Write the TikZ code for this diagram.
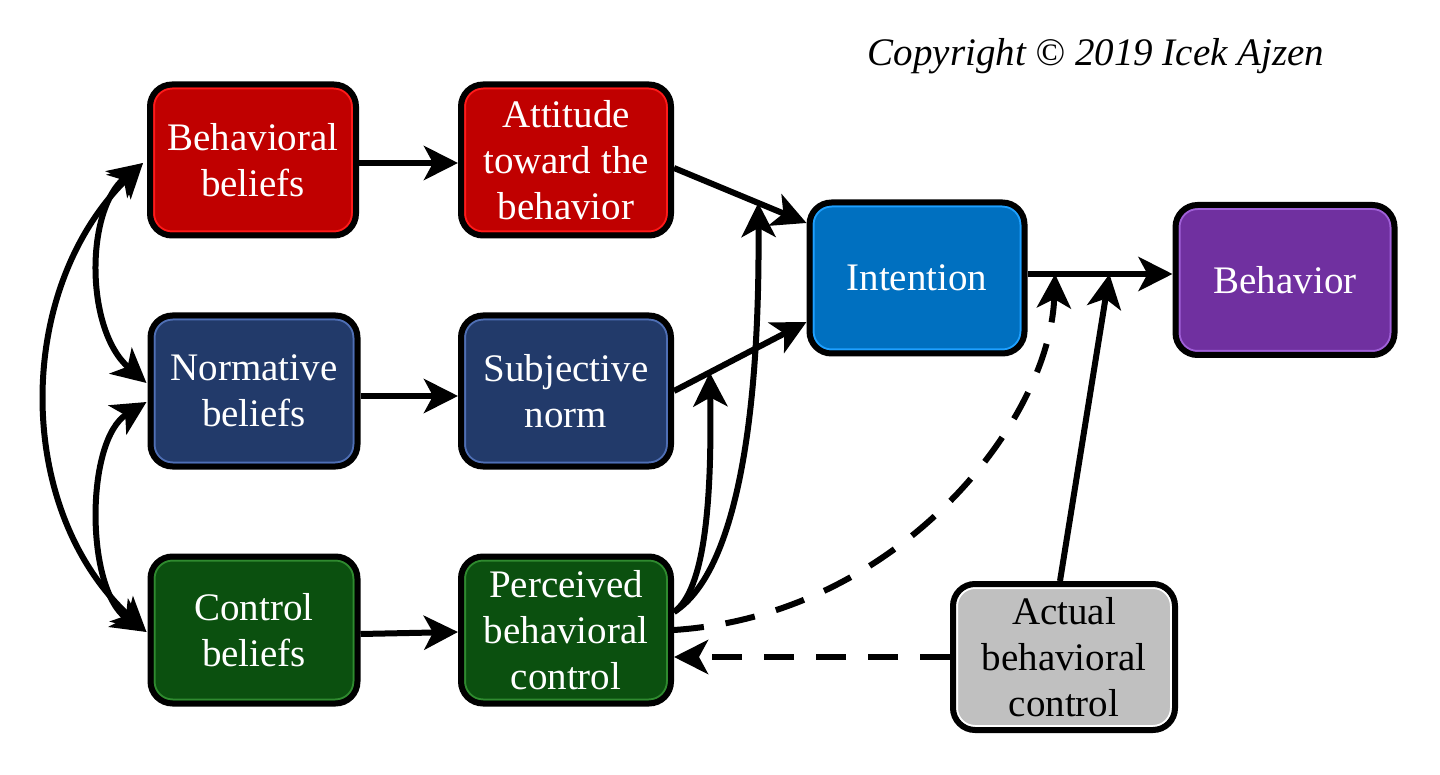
\documentclass[tikz,border=0pt]{standalone}
\usepackage{fontspec}
\setmainfont{Liberation Serif}
\usetikzlibrary{arrows.meta,calc}
\definecolor{cred}{HTML}{C00000}
\definecolor{credl}{HTML}{FF1A1A}
\definecolor{cnavy}{HTML}{223A6A}
\definecolor{cnavyl}{HTML}{4F6FB5}
\definecolor{cgreen}{HTML}{0B500F}
\definecolor{cgreenl}{HTML}{2F8A2F}
\definecolor{cblue}{HTML}{0070C0}
\definecolor{cbluel}{HTML}{1EA0FF}
\definecolor{cpurp}{HTML}{7030A0}
\definecolor{cpurpl}{HTML}{A060D8}
\definecolor{cgray}{HTML}{C0C0C0}
\begin{document}
\begin{tikzpicture}[x=1pt,y=-1pt,
  box/.style n args={2}{rectangle, rounded corners=22pt, line width=6pt, draw=black,
    fill=#1, text=white, align=center, inner sep=0pt,
    font=\fontsize{39}{46}\selectfont,
    path picture={\draw[#2,line width=2pt,rounded corners=18pt]
      ([shift={(4pt,-4pt)}]path picture bounding box.north west) rectangle
      ([shift={(-4pt,4pt)}]path picture bounding box.south east);}},
  >={Stealth[length=34pt,width=34pt,inset=9pt]},
  conn/.style={line width=6pt},
  dsh/.style={line width=6pt, dash pattern=on 30pt off 22pt}]
\fill[white] (0,0) rectangle (1440,775);
\useasboundingbox (0,0) rectangle (1440,775);

\node[font=\fontsize{39}{46}\selectfont\itshape, anchor=base] (copy) at (1096,66) {Copyright © 2019 Icek Ajzen};

\node[box={cred}{credl}, minimum width=206pt, minimum height=151pt] (bb) at (253,160) {Behavioral\\beliefs};
\node[box={cred}{credl}, minimum width=210pt, minimum height=151pt] (att) at (566,160) {Attitude\\toward the\\behavior};
\node[box={cnavy}{cnavyl}, minimum width=207pt, minimum height=151pt] (nb) at (254,391) {Normative\\beliefs};
\node[box={cnavy}{cnavyl}, minimum width=210pt, minimum height=151pt] (sn) at (566,391) {Subjective\\norm};
\node[box={cgreen}{cgreenl}, minimum width=207pt, minimum height=147pt] (cb) at (254,630) {Control\\beliefs};
\node[box={cgreen}{cgreenl}, minimum width=210pt, minimum height=147pt] (pbc) at (566,630) {Perceived\\behavioral\\control};
\node[box={cblue}{cbluel}, minimum width=215pt, minimum height=151pt] (int) at (917,278) {Intention};
\node[box={cpurp}{cpurpl}, minimum width=219pt, minimum height=150pt] (beh) at (1285,280) {Behavior};
\node[box={cgray}{white}, text=black, minimum width=222pt, minimum height=146pt] (abc) at (1064,657) {Actual\\behavioral\\control};

% straight arrows
\draw[conn,->] ($(bb.east)+(0,3)$) -- ($(att.west)+(0,3)$);
\draw[conn,->] ($(nb.east)+(0,5)$) -- ($(sn.west)+(0,5)$);
\draw[conn,->] ($(cb.east)+(0,4)$) -- ($(pbc.west)+(0,2)$);

\coordinate (a1) at ($(att.east)+(0,8)$);
\coordinate (a2) at ($(int.west)+(0,-55)$);
\coordinate (s1) at ($(sn.east)+(0,0)$);
\coordinate (s2) at ($(int.west)+(0,44)$);
\draw[conn,->] (a1) -- (a2);
\draw[conn,->] (s1) -- (s2);
\coordinate (m1) at ($(a1)!0.636!(a2)$);
\coordinate (m2) at ($(s1)!0.27!(s2)$);

\coordinate (i1) at ($(int.east)+(0,-4)$);
\coordinate (i2) at ($(beh.west)+(0,-6)$);
\draw[conn,->] (i1) -- (i2);
\coordinate (m3) at ($(i1)!0.19!(i2)$);
\coordinate (m4) at ($(i1)!0.565!(i2)$);

% left arcs
\coordinate (tb) at ($(bb.west)+(-4,3)$);
\coordinate (tn1) at ($(nb.west)+(-1,-8)$);
\coordinate (tn2) at ($(nb.west)+(-1,11)$);
\coordinate (tc) at ($(cb.west)+(-1,2)$);
\draw[conn,<->] (tb) .. controls (14,290) and (14,510) .. (tc);
\draw[conn,<->] (tb) .. controls (85,210) and (85,330) .. (tn1);
\draw[conn,<->] (tn2) .. controls (85,440) and (85,590) .. (tc);

% PBC to intention paths
\coordinate (p1) at ($(pbc.east)+(0,-18)$);
\draw[conn,->] (p1) .. controls (705,590) and (712,500) .. (m2);
\draw[conn,->] (p1) .. controls (740,570) and (760,400) .. (m1);
\draw[dsh,->] (pbc.east) .. controls (900,615) and (1050,420) .. (m3);

% actual behavioral control
\draw[conn,->] ($(abc.north)+(-4,0)$) -- (m4);
\draw[dsh,->] (abc.west) -- ($(pbc.east)+(0,27)$);
\end{tikzpicture}
\end{document}
